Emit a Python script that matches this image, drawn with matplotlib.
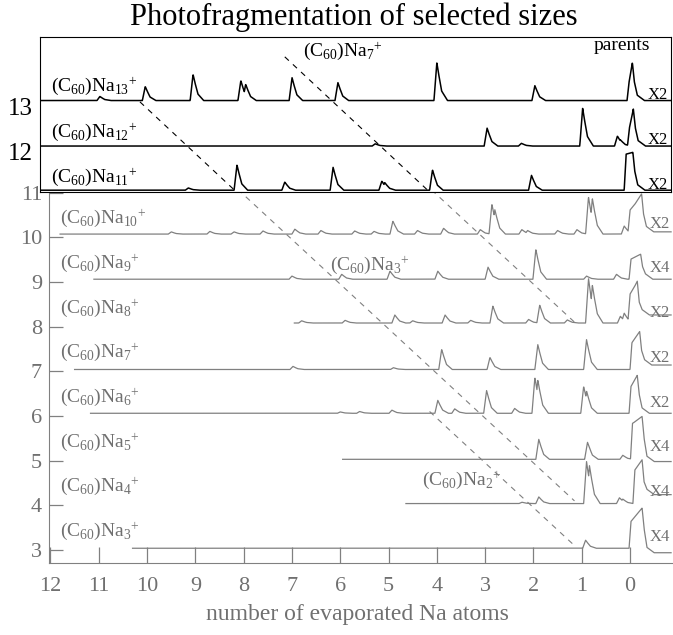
import matplotlib
matplotlib.use("Agg")
import matplotlib.pyplot as plt
import numpy as np

plt.rcParams["font.family"] = "serif"
plt.rcParams["font.serif"] = ["Liberation Serif", "DejaVu Serif"]
plt.rcParams["mathtext.fontset"] = "custom"
plt.rcParams["mathtext.rm"] = "Liberation Serif"
plt.rcParams["mathtext.it"] = "Liberation Serif:italic"
plt.rcParams["mathtext.default"] = "regular"

# ---- data -------------------------------------------------------------
# x: number of evaporated Na atoms, y: parent size (offset of each trace)
top_sizes = [13, 12, 11]
top_base = [13.13, 12.12, 11.14]
top_start = [12.22, 12.22, 12.22]
top_scale = ["X2", "X2", "X2"]
top_peaks = [
    [(10.98, 0.09), (10.04, 0.31), (9.05, 0.58), (8.06, 0.44), (7.96, 0.36),
     (7.0, 0.51), (6.05, 0.40), (4.0, 0.84), (1.97, 0.33)],
    [(5.28, 0.05), (2.96, 0.40), (2.25, 0.06), (0.98, 0.84), (0.26, 0.22), (0.2, 0.14)],
    [(9.15, 0.05), (8.14, 0.56), (7.15, 0.18), (6.15, 0.51), (5.14, 0.2), (5.08, 0.17),
     (4.09, 0.45), (2.04, 0.33)],
]
# parent peak: rise x, height at rise, top x, height at top, level after
top_parent = [
    (0.04, 0.40, -0.05, 0.84, 0.0),
    (0.03, 0.40, -0.07, 0.82, 0.0),
    (0.10, 0.80, -0.06, 0.84, 0.0),
]

low_sizes = [10, 9, 8, 7, 6, 5, 4, 3]
low_base = [10.07, 9.06, 8.08, 7.04, 6.06, 5.03, 4.04, 3.04]
low_start = [11.8, 11.1, 6.95, 11.5, 11.17, 5.95, 4.64, 10.3]
low_scale = ["X2", "X4", "X2", "X2", "X2", "X4", "X4", "X4"]
low_peaks = [
    [(9.5, 0.05), (8.7, 0.06), (8.2, 0.05), (7.6, 0.07), (6.94, 0.11), (6.4, 0.08),
     (5.7, 0.07), (5.3, 0.06), (4.91, 0.29), (4.4, 0.08), (3.86, 0.13), (3.1, 0.1),
     (2.86, 0.67), (2.8, 0.55), (2.24, 0.1), (2.12, 0.08), (1.5, 0.08), (1.1, 0.1),
     (0.86, 0.83), (0.78, 0.8), (0.12, 0.18)],
    [(7.0, 0.07), (5.97, 0.11), (4.97, 0.18), (3.98, 0.18), (2.94, 0.27), (1.95, 0.67),
     (0.9, 0.07), (0.28, 0.11)],
    [(6.8, 0.05), (5.9, 0.06), (4.87, 0.18), (4.5, 0.05), (3.83, 0.18), (3.3, 0.06),
     (2.84, 0.38), (2.1, 0.08), (1.87, 0.40), (1.3, 0.07), (0.86, 1.0), (0.78, 0.85),
     (0.2, 0.15), (0.12, 0.22)],
    [(6.98, 0.07), (4.9, 0.04), (3.9, 0.45), (2.9, 0.27), (1.91, 0.56), (0.9, 0.67)],
    [(6.0, 0.03), (5.6, 0.04), (4.93, 0.07), (3.98, 0.29), (3.63, 0.1), (2.97, 0.51),
     (2.39, 0.11), (1.97, 0.8), (1.91, 0.75), (0.96, 0.6), (0.9, 0.5)],
    [(1.89, 0.45), (0.88, 0.38), (0.15, 0.09)],
    [(2.24, 0.03), (1.89, 0.15), (0.9, 0.94), (0.84, 0.85), (0.22, 0.13), (0.15, 0.1)],
    [(0.92, 0.18)],
]
low_parent = [
    (0.02, 0.50, -0.24, 0.90, 0.05),
    (0.00, 0.45, -0.22, 0.56, 0.0),
    (0.02, 0.60, -0.15, 0.94, 0.18),
    (-0.02, 0.60, -0.20, 0.85, 0.10),
    (0.00, 0.60, -0.15, 0.85, 0.0),
    (-0.03, 0.80, -0.25, 0.96, -0.05),
    (-0.08, 0.75, -0.25, 0.98, 0.20),
    (0.00, 0.60, -0.25, 0.90, -0.10),
]

# fragment lines: fragment size, first parent, last parent
frag_size = [7, 3, 2]
frag_from = [14, 13, 6]
frag_to = [8, 4, 3]

x_end = -0.85
gray = "#808080"
tgray = "#707070"


def trace(start, base, peaks, parent):
    x = np.linspace(start, x_end, 3000)
    prof = np.zeros_like(x)
    for pos, h in peaks:
        prof = np.maximum(prof, np.interp(
            x, [pos - 0.22, pos - 0.1, pos - 0.03, pos, pos + 0.06],
            [0, 0.25 * h, 0.75 * h, h, 0]))
    r, h1, t, h2, tail = parent
    par = np.interp(x, [t - 0.25, t - 0.1, t - 0.04, t, r - 0.02, r + 0.02],
                    [tail, tail + 0.12, 0.5 * h2, h2, h1, 0])
    return x, base + prof + par


def label(n):
    return r"(C$_{60}$)Na$_{%d}{}^{+}$" % n


fig = plt.figure(figsize=(6.73, 6.35), dpi=100)

# lower panel
ax = fig.add_axes([49 / 673, 72 / 635, 624 / 673, 383 / 635])
ax.set_xlim(12.03, -0.89)
ax.set_ylim(2.71, 11.28)
for n, b, s, pk, par, sc in zip(low_sizes, low_base, low_start, low_peaks, low_parent, low_scale):
    x, y = trace(s, b, pk, par)
    ax.plot(x, y, color=gray, lw=0.9)
    ax.text(11.8, n + 0.42, label(n), color=tgray, fontsize=14, va="center", ha="left")
    ax.text(-0.4, n + 0.3, sc, color=tgray, fontsize=12, va="center", ha="left")
ax.text(6.21, 9.38, label(3), color=tgray, fontsize=14, va="center", ha="left")
ax.text(4.31, 4.57, label(2), color=tgray, fontsize=14, va="center", ha="left")
for k, n0, n1 in zip(frag_size, frag_from, frag_to):
    ax.plot([n0 - k + 0.15, n1 - k + 0.15], [n0 + 0.1, n1 + 0.1], color=gray,
            lw=0.8, ls=(0, (5, 5)))
ax.set_xticks(range(12, -1, -1))
ax.set_yticks(range(3, 12))
ax.spines[["top", "right"]].set_visible(False)
for sp in ["left", "bottom"]:
    ax.spines[sp].set_color(gray)
ax.tick_params(axis="x", direction="in", length=11.5, width=0.9, color=gray,
               labelcolor=tgray, labelsize=16, pad=10)
ax.tick_params(axis="y", direction="in", length=10, width=0.9, color=gray,
               labelcolor=tgray, labelsize=16, pad=5)
fig.text(357 / 673, 15 / 635, "number of evaporated Na atoms", color=tgray,
         fontsize=17, ha="center", va="baseline")

# upper panel
at = fig.add_axes([40 / 673, 443 / 635, 631 / 673, 155 / 635], zorder=3)
at.set_xlim(12.22, -0.85)
at.set_ylim(11.1, 14.54)
for n, b, s, pk, par, sc in zip(top_sizes, top_base, top_start, top_peaks, top_parent, top_scale):
    x, y = trace(s, b, pk, par)
    at.plot(x, y, color="black", lw=1.1)
    at.text(12.0, n + 0.44, label(n), color="black", fontsize=14, va="center", ha="left")
    at.text(-0.37, n + 0.26, sc, color="black", fontsize=12, va="center", ha="left")
at.text(6.77, 14.22, label(7), color="black", fontsize=14, va="center", ha="left")
at.text(0.17, 14.36, "parents", color="black", fontsize=14, va="center", ha="center")
for k, n0, n1 in zip(frag_size, frag_from, frag_to):
    at.plot([n0 - k + 0.15, n1 - k + 0.15], [n0 + 0.1, n1 + 0.1], color="black",
            lw=0.8, ls=(0, (5, 5)))
at.set_xticks([])
at.set_yticks([12, 13])
at.tick_params(axis="y", length=0, labelsize=18, pad=5)

fig.text(354 / 673, 1 - 17 / 635, "Photofragmentation of selected sizes",
         fontsize=22, ha="center", va="center")

fig.savefig("out.png", dpi=100)
